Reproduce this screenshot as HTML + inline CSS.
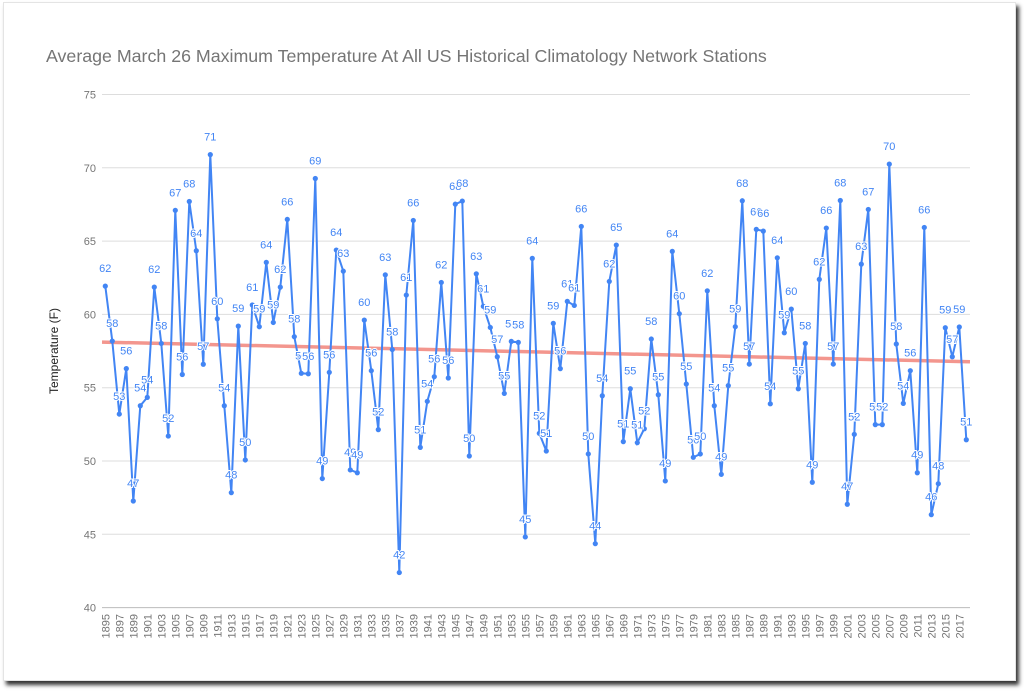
<!DOCTYPE html>
<html><head><meta charset="utf-8"><style>
html,body{margin:0;padding:0;background:#fff;width:1024px;height:691px;overflow:hidden}
#card{position:absolute;left:3px;top:2px;width:1011px;height:677px;background:#fff;box-shadow:3px 4px 4px #333;border:1px solid #e4e4e4}
svg{position:absolute;left:0;top:0}
text{font-family:"Liberation Sans",Arial,sans-serif}
</style></head><body>
<div id="card"></div>
<svg id="s" width="1024" height="691" xmlns="http://www.w3.org/2000/svg">
<text x="46" y="62" font-size="17.8" fill="#757575">Average March 26 Maximum Temperature At All US Historical Climatology Network Stations</text>
<text transform="translate(58,351) rotate(-90)" text-anchor="middle" font-size="12" fill="#222">Temperature (F)</text>
</svg>
<script>
var v=[61.93,58.18,53.2,56.3,47.27,53.77,54.34,61.86,58.02,51.7,67.1,55.9,67.7,64.34,56.6,70.9,59.7,53.77,47.84,59.2,50.07,60.64,59.16,63.55,59.45,61.86,66.48,58.48,55.98,55.95,69.27,48.8,56.05,64.39,62.95,49.39,49.2,59.61,56.16,52.14,62.7,57.6,42.39,61.32,66.41,50.93,54.07,55.75,62.18,55.66,67.52,67.73,50.34,62.77,60.55,59.11,57.11,54.61,58.16,58.09,44.82,63.82,51.89,50.68,59.39,56.3,60.89,60.61,66.0,50.48,44.36,54.45,62.25,64.73,51.32,54.93,51.25,52.2,58.32,54.52,48.64,64.3,60.05,55.25,50.25,50.48,61.61,53.77,49.09,55.14,59.16,67.75,56.61,65.8,65.68,53.9,63.86,58.75,60.36,54.93,58.02,48.55,62.39,65.89,56.61,67.77,47.05,51.82,63.43,67.16,52.48,52.48,70.25,57.98,53.93,56.16,49.2,65.93,46.34,48.45,59.09,57.11,59.14,51.45];
var s=document.getElementById('s'),h='';
function Y(t){return 94.5+(75-t)*14.66}
function X(i){return 105.3+i*7}
for(var g=40;g<=75;g+=5){var y=Y(g);h+='<line x1="102" x2="970" y1="'+y+'" y2="'+y+'" stroke="'+(g==40?'#bbb':'#ddd')+'" stroke-width="1"/>';h+='<text x="96" y="'+(y+4)+'" text-anchor="end" font-size="11" fill="#757575">'+g+'</text>';}
for(var i=0;i<v.length;i+=2){h+='<text transform="translate('+(X(i)+4)+',614) rotate(-90)" text-anchor="end" font-size="11" fill="#757575">'+(1895+i)+'</text>';}
h+='<line x1="102" y1="'+Y(58.11)+'" x2="970" y2="'+Y(56.77)+'" stroke="#f28b82" stroke-width="3.5" opacity="0.9"/>';
var p='';for(i=0;i<v.length;i++)p+=X(i).toFixed(1)+','+Y(v[i]).toFixed(1)+' ';
h+='<polyline points="'+p+'" fill="none" stroke="#4285f4" stroke-width="2"/>';
for(i=0;i<v.length;i++){h+='<circle cx="'+X(i)+'" cy="'+Y(v[i])+'" r="2.6" fill="#4285f4"/>';}
for(i=0;i<v.length;i++){h+='<text x="'+X(i)+'" y="'+(Y(v[i])-14)+'" text-anchor="middle" font-size="11" fill="#4285f4" stroke="#fff" stroke-width="2" paint-order="stroke">'+Math.round(v[i])+'</text>';}
s.insertAdjacentHTML('beforeend',h);
</script>
</body></html>
